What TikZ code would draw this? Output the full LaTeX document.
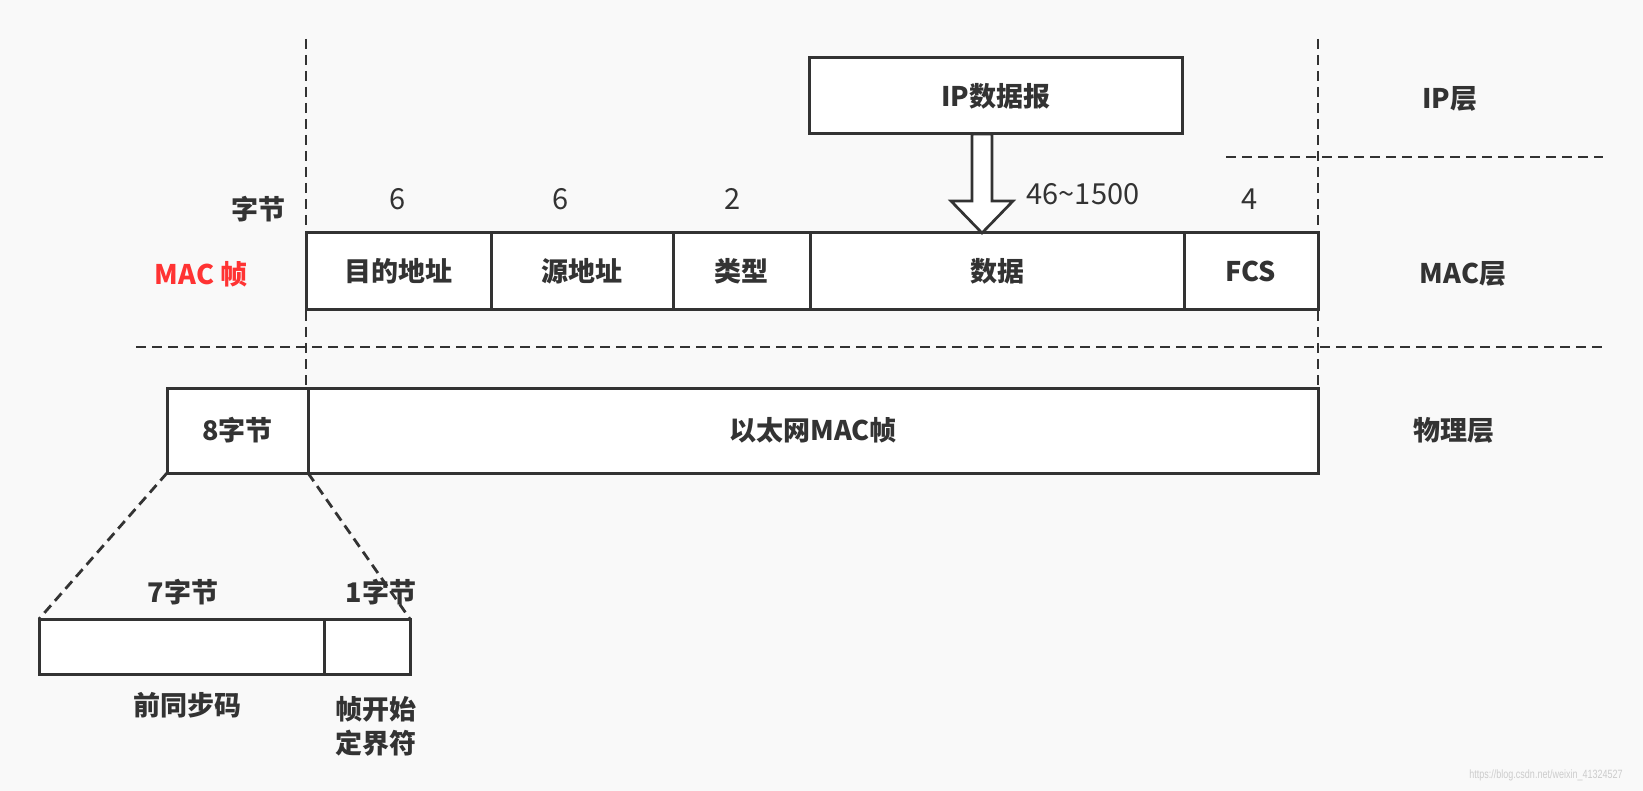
\documentclass[tikz,border=0pt]{standalone}
\usepackage{fontspec}
\setmainfont{Noto Sans CJK SC}
\newfontfamily\markfont{Liberation Sans}
\usetikzlibrary{positioning,calc}
\definecolor{inkgray}{HTML}{333333}
\definecolor{bggray}{HTML}{F9F9F9}
\definecolor{macred}{HTML}{FF3333}
\tikzset{
    field/.style={draw=inkgray,line width=3pt,fill=white,inner sep=0pt,outer sep=0pt,
        text=inkgray,font=\bfseries\fontsize{27}{30}\selectfont},
    tag/.style={text=inkgray,inner sep=0pt,align=center,font=\bfseries\fontsize{27}{34}\selectfont},
    num/.style={text=inkgray,inner sep=0pt,font=\fontsize{29}{30}\selectfont},
    sepline/.style={draw=inkgray,line width=2.8pt,dash pattern=on 10pt off 6pt},
    hollow/.style={draw=inkgray,line width=2.7pt,fill=white,line join=miter},
}
\begin{document}
\begin{tikzpicture}[x=1pt,y=-1pt]
    \fill[bggray] (0,0) rectangle (1643,791);
    \useasboundingbox (0,0) rectangle (1643,791);
    \coordinate (top) at (0,39);

    \node[field,minimum width=373,minimum height=76,anchor=north west] (ip) at (809,58) {IP数据报};

    \node[field,minimum width=185,minimum height=77,anchor=north west] (dst) at (306,233) {目的地址};
    \node[field,minimum width=182,minimum height=77,right=0pt of dst] (src) {源地址};
    \node[field,minimum width=137,minimum height=77,right=0pt of src] (type) {类型};
    \node[field,minimum width=374,minimum height=77,right=0pt of type] (dat) {数据};
    \node[field,minimum width=134,minimum height=77,right=0pt of dat] (fcs) {FCS};

    \node[field,minimum width=141,minimum height=85,anchor=north west] (pre) at (167,388) {8字节};
    \node[field,minimum width=1010,minimum height=85,right=0pt of pre] (eth) {以太网MAC帧};

    \node[field,minimum width=285,minimum height=55,anchor=north west] (sync) at (39,619) {};
    \node[field,minimum width=86,minimum height=55,right=0pt of sync] (sfd) {};

    \coordinate (tip) at ([xshift=-15pt]dat.north);
    \draw[hollow] (tip) -- ++(-31,-32) -- ++(21,0) -- ($(tip |- ip.south)+(-10,0)$)
        -- ++(20,0) -- ($(tip)+(10,-32)$) -- ++(21,0) -- cycle;

    \draw[sepline] (dst.west |- top) -- (dst.west |- eth.north);
    \draw[sepline] (fcs.east |- top) -- (fcs.east |- eth.north);
    \draw[sepline] (1226,157) -- (1603,157);
    \draw[sepline] (136,347) -- (1606,347);
    \draw[sepline] (pre.south west) -- (sync.north west);
    \draw[sepline] (pre.south east) -- (sfd.north east);

    \node[num] (len) at (1083,194) {46\textasciitilde1500};
    \foreach \n/\x in {6/398,6/561,2/733,4/1250}
    \node[num] (n\x) at (\x,199) {\n};

    \node[tag] (bytes) at (258,209) {字节};
    \node[tag,text=macred] (mac) at (201,274) {MAC 帧};
    \node[tag] (iplayer) at (1450,99) {IP层};
    \node[tag] (maclayer) at (1463,274) {MAC层};
    \node[tag] (phylayer) at (1454,430) {物理层};
    \node[tag] (seven) at (183,592) {7字节};
    \node[tag] (one) at (381,592) {1字节};
    \node[tag] (syncname) at (187,705) {前同步码};
    \node[tag] (sfdname) at (376,726) {帧开始\\定界符};

    \node[text=gray!40,font=\markfont\fontsize{12}{12}\selectfont] (mark) at (1546,775)
        {\scalebox{0.75}[1]{https://blog.csdn.net/weixin\_41324527}};
\end{tikzpicture}
\end{document}
